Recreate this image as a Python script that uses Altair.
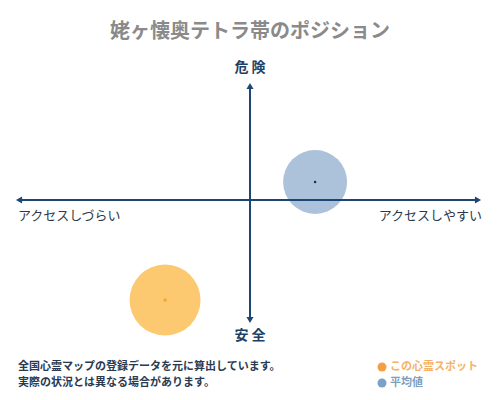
import pandas as pd
import altair as alt

# chart data
spot_names = ["この心霊スポット", "平均値"]
access_score = [-35.1, 26.9]   # left = アクセスしづらい, right = アクセスしやすい
danger_score = [-52.1, 9.4]    # up = 危険, down = 安全

title_text = "姥ヶ懐奥テトラ帯のポジション"
note_lines = ["全国心霊マップの登録データを元に算出しています。",
              "実際の状況とは異なる場合があります。"]

W, H = 484, 384
FONT = "Noto Sans CJK JP"
NAVY = "#1d4673"

spots = pd.DataFrame({"name": spot_names, "x": access_score, "y": danger_score})

xs = alt.Scale(domain=[-100, 100])
ys = alt.Scale(domain=[-100, 100])


def by_name(values):
    # discrete per-spot styling
    return alt.Scale(type="ordinal", domain=spot_names, range=values)


# symbol size is the bounding-box area, so diameter = sqrt(size)
bubbles = alt.Chart(spots).mark_circle(opacity=1).encode(
    x=alt.X("x:Q", scale=xs, axis=None),
    y=alt.Y("y:Q", scale=ys, axis=None),
    color=alt.Color("name:N", scale=alt.Scale(domain=spot_names, range=["#fdc970", "#acc1da"]), legend=None),
    size=alt.Size("name:N", scale=by_name([5041, 4096]), legend=None),
)

centers = alt.Chart(spots).mark_point(filled=True, opacity=1).encode(
    x=alt.X("x:Q", scale=xs, axis=None),
    y=alt.Y("y:Q", scale=ys, axis=None),
    color=alt.Color("name:N", scale=alt.Scale(domain=spot_names, range=["#f0a830", "#1a2a40"]), legend=None),
    shape=alt.Shape("name:N", scale=alt.Scale(domain=spot_names, range=["diamond", "circle"]), legend=None),
    size=alt.Size("name:N", scale=by_name([18, 6]), legend=None),
)

origin = pd.DataFrame({"v": [0]})
h_axis = alt.Chart(origin).mark_rule(color=NAVY, strokeWidth=2).encode(
    y=alt.Y("v:Q", scale=ys, axis=None), x=alt.value(11), x2=alt.value(470))
v_axis = alt.Chart(origin).mark_rule(color=NAVY, strokeWidth=2).encode(
    x=alt.X("v:Q", scale=xs, axis=None), y=alt.value(78), y2=alt.value(312))

head_l = alt.Chart(origin).mark_point(shape="triangle-left", filled=True, size=50, color=NAVY, opacity=1).encode(
    y=alt.Y("v:Q", scale=ys, axis=None), x=alt.value(11))
head_r = alt.Chart(origin).mark_point(shape="triangle-right", filled=True, size=50, color=NAVY, opacity=1).encode(
    y=alt.Y("v:Q", scale=ys, axis=None), x=alt.value(470))
head_u = alt.Chart(origin).mark_point(shape="triangle-up", filled=True, size=50, color=NAVY, opacity=1).encode(
    x=alt.X("v:Q", scale=xs, axis=None), y=alt.value(78))
head_d = alt.Chart(origin).mark_point(shape="triangle-down", filled=True, size=50, color=NAVY, opacity=1).encode(
    x=alt.X("v:Q", scale=xs, axis=None), y=alt.value(312))


def label(text, x, y, align="center", size=13, color="#2b3a4a", weight="normal"):
    return alt.Chart(origin).mark_text(
        text=text, align=align, baseline="middle", font=FONT,
        fontSize=size, color=color, fontWeight=weight
    ).encode(x=alt.value(x), y=alt.value(y))


title = label(title_text, W / 2, 24, size=20, color="#8a8a8a", weight="bold")
top_lbl = label("危 険", W / 2, 60, size=14, color="#1f3f66", weight="bold")
bot_lbl = label("安 全", W / 2, 328, size=14, color="#1f3f66", weight="bold")
left_lbl = label("アクセスしづらい", 10, 208, align="left")
right_lbl = label("アクセスしやすい", 474, 208, align="right")
note1 = label(note_lines[0], 10, 359, align="left", size=11, color="#2a3a50", weight="bold")
note2 = label(note_lines[1], 10, 375, align="left", size=11, color="#2a3a50", weight="bold")

legend_rows = alt.Scale(domain=spot_names, range=[359, 375], padding=0)
legend_df = pd.DataFrame({"name": spot_names})
legend_dots = alt.Chart(legend_df).mark_circle(size=81, opacity=1).encode(
    x=alt.value(374),
    y=alt.Y("name:N", scale=legend_rows, axis=None),
    color=alt.Color("name:N", scale=alt.Scale(domain=spot_names, range=["#f3a045", "#7aa2c8"]), legend=None),
)
legend_text = alt.Chart(legend_df).mark_text(align="left", baseline="middle", font=FONT, fontSize=11, fontWeight="bold").encode(
    x=alt.value(382),
    y=alt.Y("name:N", scale=legend_rows, axis=None),
    text="name:N",
    color=alt.Color("name:N", scale=alt.Scale(domain=spot_names, range=["#f4b266", "#7f9fbf"]), legend=None),
)

chart = alt.layer(
    bubbles, centers, h_axis, v_axis, head_l, head_r, head_u, head_d,
    title, top_lbl, bot_lbl, left_lbl, right_lbl, note1, note2,
    legend_dots, legend_text,
).resolve_scale(color="independent", size="independent", shape="independent", y="independent").properties(
    width=W, height=H, autosize=alt.AutoSizeParams(type="none"), padding=0, background="white"
).configure_view(stroke=None)

chart.save("out.html", embed_options={"renderer": "svg", "actions": False})
